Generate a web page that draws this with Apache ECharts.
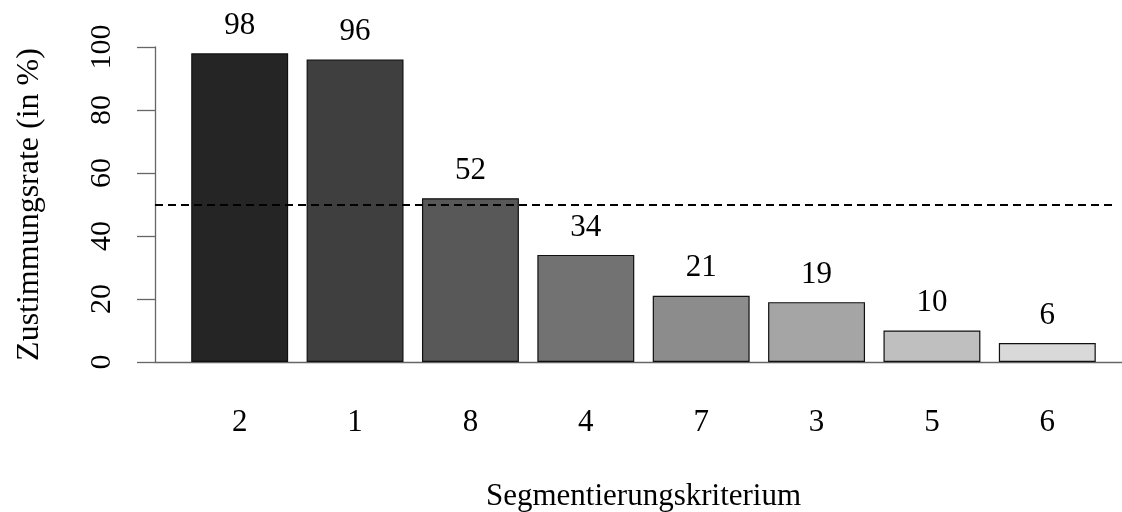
<!DOCTYPE html>
<html>
<head>
<meta charset="utf-8">
<script src="https://cdn.jsdelivr.net/npm/echarts@6/dist/echarts.min.js"></script>
<style>
  html, body { margin: 0; padding: 0; background: #fff; }
  #main { width: 1122px; height: 512px; }
</style>
</head>
<body>
<div id="main"></div>
<script>
// Segmentierungskriterien, nach Zustimmung sortiert
var categories = ['2', '1', '8', '4', '7', '3', '5', '6'];
var rates = [98, 96, 52, 34, 21, 19, 10, 6];
var barColors = ['#252525', '#3f3f3f', '#585858', '#727272', '#8c8c8c', '#a5a5a5', '#bfbfbf', '#d9d9d9'];
var yTicks = [0, 20, 40, 60, 80, 100];
var threshold = 50;

var font = 'Liberation Serif, Times New Roman, serif';
var axisGray = '#666666';

var myChart = echarts.init(document.getElementById('main'));

myChart.setOption({
  animation: false,
  textStyle: { fontFamily: font },
  grid: [
    // balken
    { left: 182, right: 17, top: 47, bottom: 150, outerBoundsMode: 'none' },
    // rahmen: y-achse + grundlinie
    { left: 155, right: 0, top: 47, bottom: 150, outerBoundsMode: 'none' },
    // gestrichelte linie
    { left: 155, right: 5, top: 47, bottom: 150, outerBoundsMode: 'none' }
  ],
  xAxis: [{
    gridIndex: 0,
    type: 'category',
    data: categories,
    axisLine: { show: false },
    axisTick: { show: false },
    axisLabel: { color: '#000', fontSize: 31, fontFamily: font, margin: 45 },
    name: 'Segmentierungskriterium',
    nameLocation: 'middle',
    nameGap: 119,
    nameTextStyle: { color: '#000', fontSize: 31, fontFamily: font }
  }, {
    gridIndex: 1,
    type: 'value',
    min: 0,
    max: 1,
    axisLine: { show: true, lineStyle: { color: axisGray, width: 1.3 } },
    axisTick: { show: false },
    axisLabel: { show: false },
    splitLine: { show: false }
  }, {
    gridIndex: 2,
    type: 'value',
    min: 0,
    max: 1,
    show: false
  }],
  yAxis: [{
    gridIndex: 0,
    type: 'value',
    min: yTicks[0],
    max: yTicks[yTicks.length - 1],
    show: false
  }, {
    gridIndex: 1,
    type: 'value',
    min: yTicks[0],
    max: yTicks[yTicks.length - 1],
    interval: 20,
    axisLine: { show: true, lineStyle: { color: axisGray, width: 1.3 } },
    axisTick: { show: true, length: 18, lineStyle: { color: axisGray, width: 1.3 } },
    axisLabel: { color: '#000', fontSize: 30, fontFamily: font, rotate: 90, margin: 38 },
    splitLine: { show: false },
    name: 'Zustimmungsrate (in %)',
    nameLocation: 'middle',
    nameRotate: 90,
    nameGap: 109,
    nameTextStyle: { color: '#000', fontSize: 32, fontFamily: font }
  }, {
    gridIndex: 2,
    type: 'value',
    min: yTicks[0],
    max: yTicks[yTicks.length - 1],
    show: false
  }],
  series: [{
    name: 'Zustimmungsrate',
    type: 'bar',
    xAxisIndex: 0,
    yAxisIndex: 0,
    barCategoryGap: '16%',
    data: rates.map(function (v, i) {
      return { value: v, itemStyle: { color: barColors[i] } };
    }),
    itemStyle: { borderColor: '#111', borderWidth: 1.2 },
    label: {
      show: true,
      position: 'top',
      distance: 12,
      color: '#000',
      fontSize: 31,
      fontFamily: font
    },
    z: 2
  }, {
    name: 'Schwelle',
    type: 'line',
    xAxisIndex: 2,
    yAxisIndex: 2,
    data: [],
    z: 5,
    markLine: {
      silent: true,
      symbol: ['none', 'none'],
      label: { show: false },
      lineStyle: { color: '#000', type: [8, 5], width: 1.8 },
      data: [{ yAxis: threshold }]
    }
  }]
});
</script>
</body>
</html>
